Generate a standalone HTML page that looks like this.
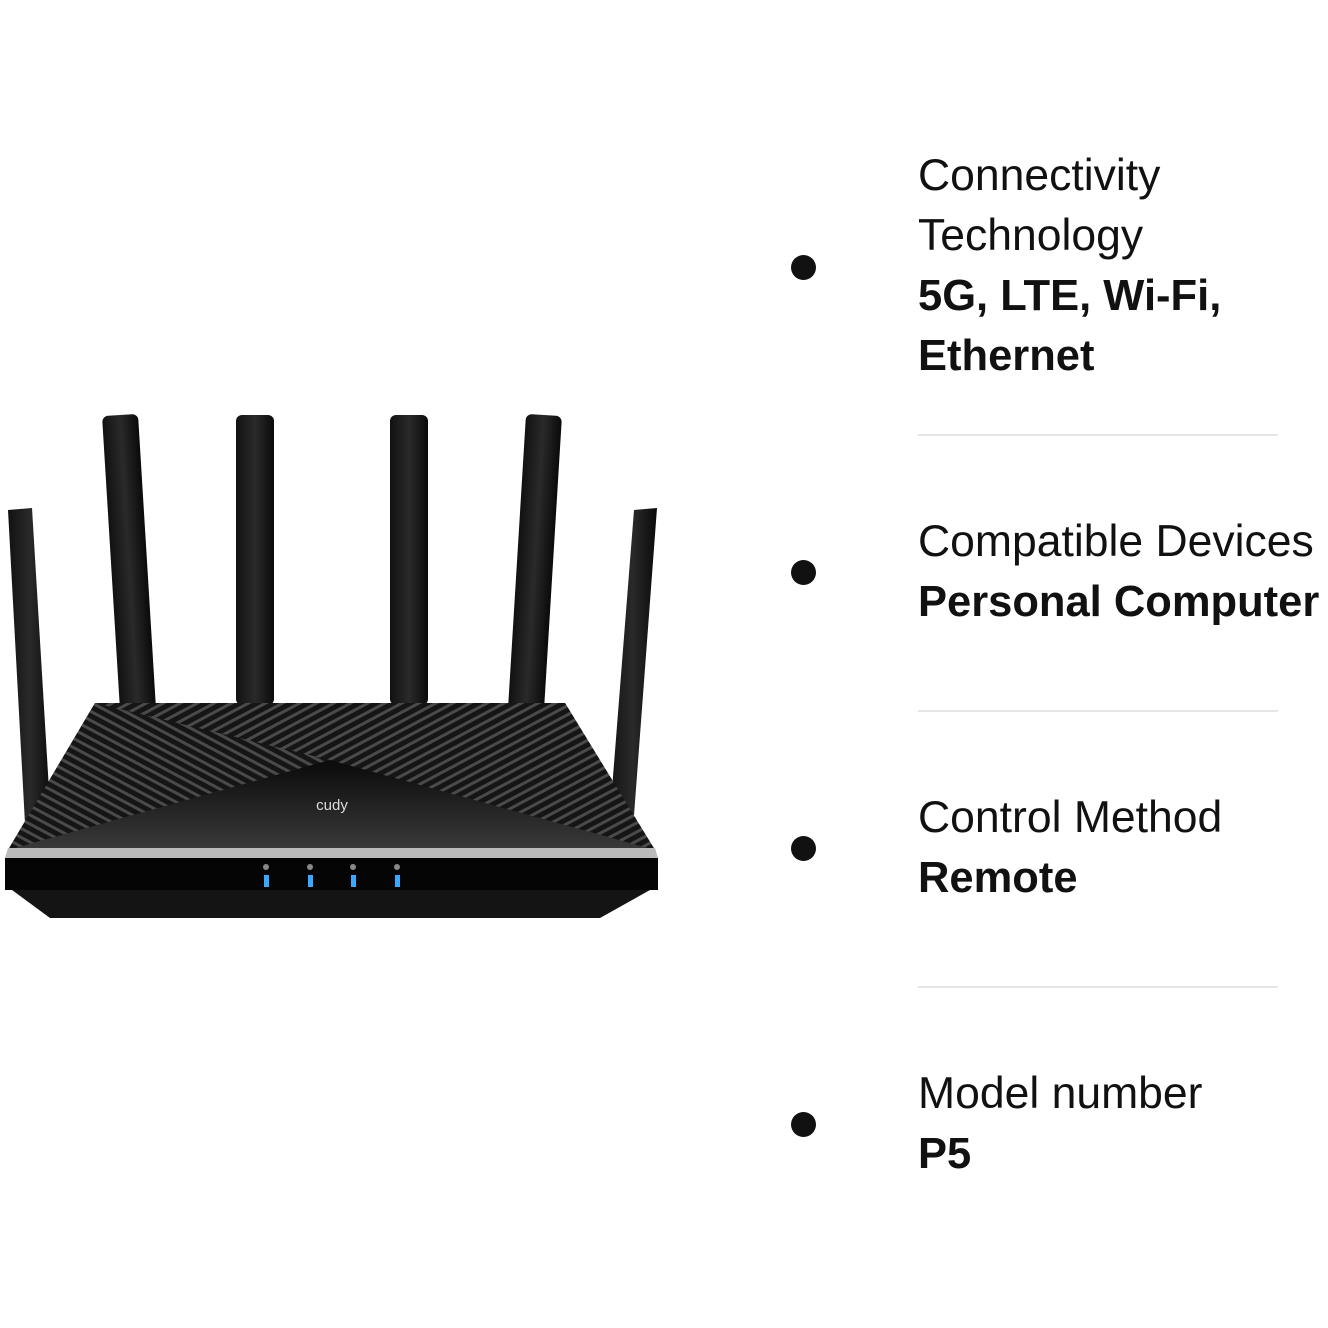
<!DOCTYPE html>
<html><head><style>
html,body{margin:0;padding:0;background:#fff;width:1328px;height:1328px;overflow:hidden;position:relative;font-family:"Liberation Sans",sans-serif;color:#111}
.t{position:absolute;left:918px;font-size:44.5px;line-height:60px;white-space:nowrap}
.b{font-weight:bold;font-size:43.5px}
.dot{position:absolute;left:791px;width:25px;height:25px;border-radius:50%;background:#111}
.hr{position:absolute;left:918px;width:360px;height:2px;background:#e6e6e6}
</style></head><body>
<svg width="670" height="940" style="position:absolute;left:0;top:0">
<defs>
<linearGradient id="ant" x1="0" x2="1"><stop offset="0" stop-color="#111"/><stop offset=".5" stop-color="#2a2a2a"/><stop offset="1" stop-color="#0a0a0a"/></linearGradient>
<pattern id="str" width="8" height="8" patternUnits="userSpaceOnUse" patternTransform="rotate(-28)"><rect width="8" height="8" fill="#151515"/><rect width="8" height="3" fill="#4a4a4a"/></pattern>
<pattern id="str2" width="8" height="8" patternUnits="userSpaceOnUse" patternTransform="rotate(28)"><rect width="8" height="8" fill="#151515"/><rect width="8" height="3" fill="#4a4a4a"/></pattern>
<linearGradient id="cen" x1="0" x2="0" y1="0" y2="1"><stop offset="0" stop-color="#0a0a0a"/><stop offset="1" stop-color="#3a3a3a"/></linearGradient>
</defs>
<polygon points="8,510 32,508 52,840 26,842" fill="url(#ant)"/>
<rect x="102" y="415" width="36" height="300" rx="6" fill="url(#ant)" transform="rotate(-3.5 120 415)"/>
<rect x="236" y="415" width="38" height="290" rx="6" fill="url(#ant)"/>
<rect x="390" y="415" width="38" height="290" rx="6" fill="url(#ant)"/>
<rect x="526" y="415" width="36" height="300" rx="6" fill="url(#ant)" transform="rotate(3.5 544 415)"/>
<polygon points="634,510 657,508 632,842 608,840" fill="url(#ant)"/>
<polygon points="95,703 565,703 655,850 8,850" fill="url(#str)"/>
<polygon points="95,703 330,760 8,850" fill="url(#str2)"/>
<polygon points="565,703 330,760 655,850" fill="url(#str)"/>
<polygon points="330,760 655,850 8,850" fill="url(#cen)"/>
<polygon points="8,848 655,848 658,858 5,858" fill="#bbb"/>
<rect x="5" y="858" width="653" height="32" fill="#050505"/>
<polygon points="12,890 650,890 600,918 50,918" fill="#141414"/>
<text x="332" y="810" fill="#ddd" font-size="15" text-anchor="middle" font-family="Liberation Sans">cudy</text>
<g fill="#3aa8ff"><rect x="264" y="875" width="5" height="12"/><rect x="308" y="875" width="5" height="12"/><rect x="351" y="875" width="5" height="12"/><rect x="395" y="875" width="5" height="12"/></g>
<g fill="#888"><circle cx="266" cy="867" r="3"/><circle cx="310" cy="867" r="3"/><circle cx="353" cy="867" r="3"/><circle cx="397" cy="867" r="3"/></g>
</svg>
<div class="t" style="top:146px">Connectivity<br>Technology<br><span class="b">5G, LTE, Wi-Fi,<br>Ethernet</span></div>
<div class="dot" style="top:255px"></div>
<div class="hr" style="top:434px"></div>
<div class="t" style="top:512px">Compatible Devices<br><span class="b">Personal Computer</span></div>
<div class="dot" style="top:560px"></div>
<div class="hr" style="top:710px"></div>
<div class="t" style="top:788px">Control Method<br><span class="b">Remote</span></div>
<div class="dot" style="top:836px"></div>
<div class="hr" style="top:986px"></div>
<div class="t" style="top:1064px">Model number<br><span class="b">P5</span></div>
<div class="dot" style="top:1112px"></div>
</body></html>
